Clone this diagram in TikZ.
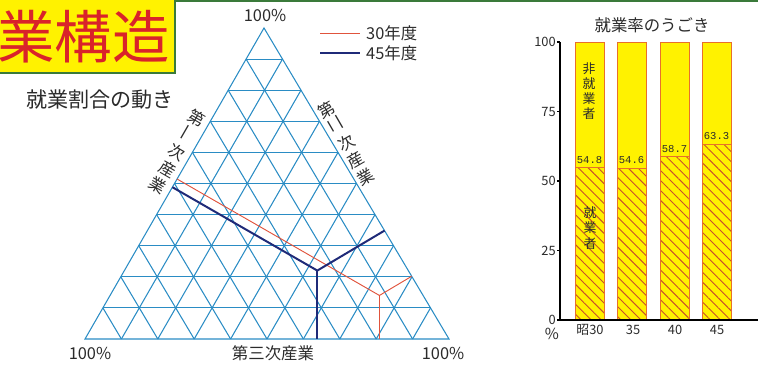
\documentclass[tikz,border=0pt]{standalone}
\usepackage{fontspec}
\usepackage{tikz}
\usetikzlibrary{calc,patterns.meta}
\setmainfont{Noto Sans CJK JP}
\newfontfamily\valfont{Liberation Mono}
\definecolor{gridblue}{HTML}{2A8CC4}
\definecolor{navy}{HTML}{1F2A78}
\definecolor{redline}{HTML}{E0533C}
\definecolor{titlered}{HTML}{D9232A}
\definecolor{boxyellow}{HTML}{FFF200}
\definecolor{barborder}{HTML}{E8702A}
\definecolor{hatch}{HTML}{C8502A}
\definecolor{framegreen}{HTML}{3A7A3A}
\definecolor{text}{HTML}{2B2B2B}
\tikzset{
  gridline/.style={draw=gridblue, line width=0.9pt},
  line30/.style={draw=redline, line width=0.8pt},
  line45/.style={draw=navy, line width=1.7pt},
  lab/.style={text=text, inner sep=0pt},
  big/.style={font=\fontsize{14}{16.5}\selectfont},
  small/.style={font=\fontsize{11}{13}\selectfont},
  barfill/.style={fill=boxyellow},
  barhatch/.style={pattern={Lines[angle=-45,distance=6pt,line width=0.8pt]}, pattern color=hatch},
  barline/.style={draw=barborder, line width=0.6pt},
  axisline/.style={draw=black, line width=1pt}
}
\begin{document}
\begin{tikzpicture}[x=0.03cm,y=0.03cm]
  \useasboundingbox (0,0) rectangle (758,365);
  \draw[framegreen, line width=1.5pt] (0,364) -- (758,364);

  % title box
  \draw[fill=boxyellow, draw=framegreen, line width=1.2pt] (-3,292) rectangle (175,366);
  \node[anchor=west, text=titlered, inner sep=0pt, font=\fontsize{49}{52}\selectfont] (title) at (-3,328) {業構造};
  \node[lab, anchor=west, font=\fontsize{18}{20}\selectfont] (share) at (26,265) {就業割合の動き};

  % triangle
  \coordinate (L) at (85,26);
  \coordinate (R) at (449,26);
  \coordinate (T) at (264,337);
  \foreach \k in {1,...,9} {
    \draw[gridline] ($(L)!\k/10!(T)$) -- ($(R)!\k/10!(T)$);
    \draw[gridline] ($(L)!\k/10!(R)$) -- ($(T)!\k/10!(R)$);
    \draw[gridline] ($(L)!\k/10!(R)$) -- ($(L)!\k/10!(T)$);
  }
  \draw[gridline] (L) -- (R) -- (T) -- cycle;

  \coordinate (p30) at (barycentric cs:L=0.12,R=0.74,T=0.14);
  \coordinate (p45) at (barycentric cs:L=0.25,R=0.53,T=0.22);
  \draw[line30] ($(L)!(p30)!(T)$) -- (p30) -- ($(R)!(p30)!(T)$);
  \draw[line30] (p30) -- ($(L)!(p30)!(R)$);
  \draw[line45] ($(L)!(p45)!(T)$) -- (p45) -- ($(R)!(p45)!(T)$);
  \draw[line45] (p45) -- ($(L)!(p45)!(R)$);

  \node[lab, big] (ptop) at (265,350) {100\%};
  \node[lab, big] (pleft) at (90,12) {100\%};
  \node[lab, big] (pright) at (443,12) {100\%};
  \node[lab, big] (third) at (273,12) {第三次産業};
  \node[lab, big, align=center, rotate=-30] (first) at (177,213) {第\\\rotatebox{90}{一}\\次\\産\\業};
  \node[lab, big, align=center, rotate=30] (second) at (346,222) {第\\\rotatebox{90}{二}\\次\\産\\業};

  % legend
  \coordinate (k30a) at (320,332);
  \coordinate (k30b) at (360,332);
  \coordinate (k45a) at (320,312);
  \coordinate (k45b) at (360,312);
  \draw[line30] (k30a) -- (k30b);
  \draw[line45] (k45a) -- (k45b);
  \node[lab, big, anchor=west] (t30) at (366,332) {30年度};
  \node[lab, big, anchor=west] (t45) at (366,312) {45年度};

  % bar chart
  \node[lab, big] (rate) at (652,340) {就業率のうごき};
  \foreach \x/\v [count=\i] in {575/54.8, 617/54.6, 660/58.7, 702/63.3} {
    \fill[barfill] (\x,45) rectangle (\x+29,323);
    \fill[barhatch] (\x,45) rectangle (\x+29,45+2.78*\v);
    \draw[barline] (\x,45+2.78*\v) -- (\x+29,45+2.78*\v);
    \draw[barline] (\x,45) rectangle (\x+29,323);
    \node[lab, font=\valfont\fontsize{9}{10}\selectfont] (val\i) at (\x+14.5,45+2.78*\v+8) {\v};
  }
  \node[lab, small, align=center] (nonwork) at (589,274) {非\\就\\業\\者};
  \node[lab, small, align=center] (work) at (590,137) {就\\業\\者};

  \coordinate (O) at (560,45);
  \draw[axisline] (560,323) -- (O) -- (758,45);
  \foreach \v in {0,25,50,75,100} {
    \draw[axisline] (560,45+2.78*\v) -- (557,45+2.78*\v);
    \node[lab, small, anchor=east] (tick\v) at (556,45+2.78*\v) {\v};
  }
  \node[lab, font=\fontsize{13}{14}\selectfont] (pct) at (552,31) {\%};
  \foreach \x/\y in {590/昭30, 633/35, 675/40, 717/45}
    \node[lab, small] (yr\x) at (\x,35) {\y};
\end{tikzpicture}
\end{document}
